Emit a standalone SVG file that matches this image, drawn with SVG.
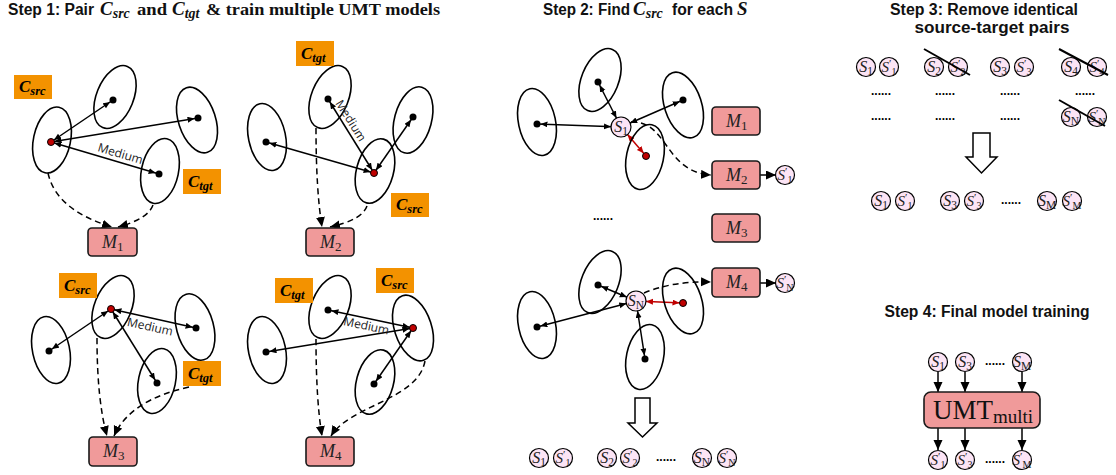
<svg xmlns="http://www.w3.org/2000/svg" width="1116" height="475" viewBox="0 0 1116 475">
<defs>
<style>
.el{fill:none;stroke:#000;stroke-width:1.6}
.dot{fill:#000}
.rdot{fill:#c00000;stroke:#000;stroke-width:1}
.ba{stroke:#000;stroke-width:1.5;fill:none;marker-start:url(#ad);marker-end:url(#ad)}
.ra{stroke:#c00000;stroke-width:1.5;fill:none}
.dash{stroke:#000;stroke-width:1.5;fill:none;stroke-dasharray:6,4;marker-end:url(#dh)}
.sol{stroke:#000;stroke-width:1.5;fill:none;marker-end:url(#fa)}
.cb{fill:#f39200}
.cl{font-family:"Liberation Serif",serif;font-style:italic;font-weight:bold;font-size:17px;fill:#000}
.csub{font-size:12.5px}
.mb{fill:#f09a9a;stroke:#1a1a1a;stroke-width:1.6}
.ml{font-family:"Liberation Serif",serif;font-style:italic;font-size:18px;fill:#222}
.msub{font-size:13px;font-style:normal}
.sc{fill:#fce4f5;stroke:#000;stroke-width:1.2}
.st{font-family:"Liberation Serif",serif;font-style:italic;font-size:16px;fill:#222;text-anchor:middle}
.ss{font-size:11.5px;font-style:normal}
.sq{font-size:10px;font-style:normal}
.sp{font-size:11px;font-style:normal}
.stp{font-family:"Liberation Serif",serif;font-style:italic;font-size:15px;fill:#222;text-anchor:middle}
.med{font-family:"Open Sans","Liberation Sans",sans-serif;font-size:12px;fill:#222;text-anchor:middle}
.ti{font-family:"Liberation Sans",sans-serif;font-weight:bold;font-size:16px;fill:#111}
.tis{font-family:"Liberation Serif",serif;font-weight:bold;font-size:17px;fill:#111}
.tim{font-family:"Liberation Serif",serif;font-weight:bold;font-style:italic;font-size:19px;fill:#111}
.tsub{font-size:14px}
.dots{font-family:"Liberation Sans",sans-serif;font-weight:bold;font-size:12px;fill:#000;text-anchor:middle}
.hol{fill:#fff;stroke:#000;stroke-width:1.5}
.umt{font-family:"Liberation Serif",serif;font-size:27px;fill:#111}
.strike{stroke:#000;stroke-width:2}
</style>
<marker id="ad" markerUnits="userSpaceOnUse" markerWidth="12" markerHeight="8" refX="10.5" refY="3" orient="auto-start-reverse"><path d="M0,0 L7,3 L0,6 z" fill="#000"/></marker>
<marker id="as" markerUnits="userSpaceOnUse" markerWidth="20" markerHeight="8" refX="17" refY="3" orient="auto-start-reverse"><path d="M0,0 L7,3 L0,6 z" fill="#000"/></marker>
<marker id="rd" markerUnits="userSpaceOnUse" markerWidth="12" markerHeight="8" refX="10.5" refY="3" orient="auto-start-reverse"><path d="M0,0 L7,3 L0,6 z" fill="#c00000"/></marker>
<marker id="rs" markerUnits="userSpaceOnUse" markerWidth="20" markerHeight="8" refX="17" refY="3" orient="auto-start-reverse"><path d="M0,0 L7,3 L0,6 z" fill="#c00000"/></marker>
<marker id="dh" markerUnits="userSpaceOnUse" markerWidth="11" markerHeight="10" refX="10" refY="4.5" orient="auto"><path d="M0,0 L10,4.5 L0,9 z" fill="#000"/></marker>
<marker id="fa" markerUnits="userSpaceOnUse" markerWidth="11" markerHeight="10" refX="10" refY="4.5" orient="auto"><path d="M0,0 L10,4.5 L0,9 z" fill="#000"/></marker>
</defs>
<rect width="1116" height="475" fill="#fff"/>

<!-- Titles -->
<g id="titles">
<text class="ti" x="8" y="15" textLength="86" lengthAdjust="spacingAndGlyphs">Step 1: Pair</text>
<text class="tim" x="100" y="15">C<tspan class="tsub" dy="3">src</tspan></text>
<text class="tis" x="137" y="15" textLength="30" lengthAdjust="spacingAndGlyphs">and</text>
<text class="tim" x="172" y="15">C<tspan class="tsub" dy="3">tgt</tspan></text>
<text class="tis" x="206" y="15" textLength="234" lengthAdjust="spacingAndGlyphs">&amp; train multiple UMT models</text>
<text class="ti" x="543" y="15" textLength="87" lengthAdjust="spacingAndGlyphs">Step 2: Find</text>
<text class="tim" x="633" y="15">C<tspan class="tsub" dy="3">src</tspan></text>
<text class="ti" x="672" y="15" textLength="61" lengthAdjust="spacingAndGlyphs">for each</text>
<text class="tim" x="737" y="15">S</text>
<text class="ti" x="984" y="15" text-anchor="middle" textLength="188" lengthAdjust="spacingAndGlyphs">Step 3: Remove identical</text>
<text class="ti" x="992" y="33" text-anchor="middle" textLength="155" lengthAdjust="spacingAndGlyphs">source-target pairs</text>
<text class="ti" x="987" y="317" text-anchor="middle" textLength="205" lengthAdjust="spacingAndGlyphs">Step 4: Final model training</text>
</g>

<!-- Connectors -->
<g id="connectors">
<line class="ba" x1="51" y1="142" x2="113" y2="100"/>
<line class="ba" x1="51" y1="142" x2="198" y2="118"/>
<line class="ba" x1="51" y1="142" x2="159" y2="174"/>
<path class="dash" d="M48,173 Q56,210 112,227"/>
<path class="dash" d="M153,205 Q148,219 118,227"/>
<line class="ba" x1="374" y1="173" x2="328" y2="99"/>
<line class="ba" x1="374" y1="173" x2="266" y2="142"/>
<line class="ba" x1="374" y1="173" x2="413" y2="117"/>
<path class="dash" d="M316,128 Q316,190 322,227"/>
<path class="dash" d="M367,206 Q362,220 330,227"/>
<line class="ba" x1="111" y1="309" x2="49" y2="351"/>
<line class="ba" x1="111" y1="309" x2="196" y2="328"/>
<line class="ba" x1="111" y1="309" x2="157" y2="383"/>
<path class="dash" d="M97,338 Q97,400 107,436"/>
<path class="dash" d="M189,387 Q130,400 114,436"/>
<line class="ba" x1="413" y1="328" x2="328" y2="310"/>
<line class="ba" x1="413" y1="328" x2="266" y2="352"/>
<line class="ba" x1="413" y1="328" x2="374" y2="384"/>
<path class="dash" d="M316,339 Q316,400 322,436"/>
<path class="dash" d="M425,361 C418,400 350,405 331,436"/>
<line class="ba" style="marker-start:url(#as)" x1="621" y1="127" x2="537" y2="124"/>
<line class="ba" style="marker-start:url(#as)" x1="621" y1="127" x2="598" y2="82"/>
<line class="ba" style="marker-start:url(#as)" x1="621" y1="127" x2="683" y2="100"/>
<line class="ra" style="marker-start:url(#rs);marker-end:url(#rd)" x1="621" y1="127" x2="646" y2="156"/>
<path class="dash" d="M631,122 C668,120 664,172 711,175"/>
<line class="sol" x1="760" y1="175" x2="776" y2="175"/>
<line class="ba" style="marker-start:url(#as)" x1="636" y1="301" x2="598" y2="285"/>
<line class="ba" style="marker-start:url(#as)" x1="636" y1="301" x2="537" y2="327"/>
<line class="ba" style="marker-start:url(#as)" x1="636" y1="301" x2="645" y2="359"/>
<line class="ra" style="marker-start:url(#rs);marker-end:url(#rd)" x1="636" y1="301" x2="683" y2="303"/>
<path class="dash" d="M644,293 Q672,281 711,282"/>
<line class="sol" x1="760" y1="283" x2="776" y2="283"/>
<line class="sol" x1="938" y1="372" x2="938" y2="392"/>
<line class="sol" x1="965" y1="372" x2="965" y2="392"/>
<line class="sol" x1="1022" y1="372" x2="1022" y2="392"/>
<line class="sol" x1="938" y1="428" x2="938" y2="450"/>
<line class="sol" x1="965" y1="428" x2="965" y2="450"/>
<line class="sol" x1="1022" y1="428" x2="1022" y2="450"/>
</g>

<!-- Panel 1 -->
<g id="p1">
<ellipse class="el" cx="52" cy="140" rx="18.5" ry="33.5" transform="rotate(12 52 140)"/>
<ellipse class="el" cx="115" cy="97" rx="18.5" ry="33" transform="rotate(22 115 97)"/>
<ellipse class="el" cx="197" cy="120" rx="18.5" ry="34" transform="rotate(-18 197 120)"/>
<ellipse class="el" cx="160" cy="171" rx="18.5" ry="33" transform="rotate(12 160 171)"/>
<circle class="rdot" cx="51" cy="142" r="3.5"/>
<circle class="dot" cx="113" cy="100" r="3.5"/>
<circle class="dot" cx="198" cy="118" r="3.5"/>
<circle class="dot" cx="159" cy="174" r="3.5"/>
<text class="med" transform="translate(118,161.5) rotate(16.5)" y="-4">Medium</text>
<rect class="cb" x="14" y="75" width="38" height="24"/>
<text class="cl" x="19" y="92">C<tspan class="csub" dy="3">src</tspan></text>
<rect class="cb" x="183" y="169" width="38" height="25"/>
<text class="cl" x="188" y="187">C<tspan class="csub" dy="3">tgt</tspan></text>
</g>
<g id="m1"><rect class="mb" x="88" y="228" width="49" height="28" rx="4"/><text class="ml" x="102" y="248">M<tspan class="msub" dy="3">1</tspan></text></g>

<!-- Panel 2 -->
<g id="p2">
<ellipse class="el" cx="330" cy="97" rx="18.5" ry="33" transform="rotate(22 330 97)"/>
<ellipse class="el" cx="267" cy="137" rx="18.5" ry="34" transform="rotate(-12 267 137)"/>
<ellipse class="el" cx="413" cy="120" rx="18.5" ry="34" transform="rotate(15 413 120)"/>
<ellipse class="el" cx="375" cy="171" rx="18.5" ry="33" transform="rotate(15 375 171)"/>
<circle class="dot" cx="328" cy="99" r="3.5"/>
<circle class="dot" cx="266" cy="142" r="3.5"/>
<circle class="dot" cx="413" cy="117" r="3.5"/>
<circle class="rdot" cx="374" cy="173" r="3.5"/>
<text class="med" transform="translate(344,125) rotate(58)" y="-4">Medium</text>
<rect class="cb" x="296" y="41" width="38" height="25"/>
<text class="cl" x="301" y="59">C<tspan class="csub" dy="3">tgt</tspan></text>
<rect class="cb" x="391" y="193" width="38" height="24"/>
<text class="cl" x="396" y="210">C<tspan class="csub" dy="3">src</tspan></text>
</g>
<g id="m2"><rect class="mb" x="306" y="228" width="48" height="28" rx="4"/><text class="ml" x="320" y="248">M<tspan class="msub" dy="3">2</tspan></text></g>

<!-- Panel 3 -->
<g id="p3">
<ellipse class="el" cx="113" cy="307" rx="18.5" ry="33" transform="rotate(22 113 307)"/>
<ellipse class="el" cx="51" cy="350" rx="18.5" ry="34" transform="rotate(-12 51 350)"/>
<ellipse class="el" cx="195" cy="327" rx="18.5" ry="34" transform="rotate(-15 195 327)"/>
<ellipse class="el" cx="157" cy="381" rx="18.5" ry="33" transform="rotate(12 157 381)"/>
<circle class="rdot" cx="111" cy="309" r="3.5"/>
<circle class="dot" cx="49" cy="351" r="3.5"/>
<circle class="dot" cx="196" cy="328" r="3.5"/>
<circle class="dot" cx="157" cy="383" r="3.5"/>
<text class="med" transform="translate(152,318) rotate(12.6)" y="13">Medium</text>
<rect class="cb" x="59" y="273" width="38" height="25"/>
<text class="cl" x="64" y="291">C<tspan class="csub" dy="3">src</tspan></text>
<rect class="cb" x="183" y="361" width="38" height="25"/>
<text class="cl" x="188" y="379">C<tspan class="csub" dy="3">tgt</tspan></text>
</g>
<g id="m3"><rect class="mb" x="89" y="437" width="48" height="29" rx="4"/><text class="ml" x="103" y="457">M<tspan class="msub" dy="3">3</tspan></text></g>

<!-- Panel 4 -->
<g id="p4">
<ellipse class="el" cx="330" cy="307" rx="18.5" ry="33" transform="rotate(22 330 307)"/>
<ellipse class="el" cx="267" cy="350" rx="18.5" ry="34" transform="rotate(-12 267 350)"/>
<ellipse class="el" cx="413" cy="328" rx="18.5" ry="34" transform="rotate(-18 413 328)"/>
<ellipse class="el" cx="375" cy="382" rx="18.5" ry="33" transform="rotate(15 375 382)"/>
<circle class="dot" cx="328" cy="310" r="3.5"/>
<circle class="dot" cx="266" cy="352" r="3.5"/>
<circle class="rdot" cx="413" cy="328" r="3.5"/>
<circle class="dot" cx="374" cy="384" r="3.5"/>
<text class="med" transform="translate(368,318) rotate(12)" y="12">Medium</text>
<rect class="cb" x="275" y="278" width="38" height="25"/>
<text class="cl" x="280" y="296">C<tspan class="csub" dy="3">tgt</tspan></text>
<rect class="cb" x="376" y="268" width="38" height="25"/>
<text class="cl" x="381" y="286">C<tspan class="csub" dy="3">src</tspan></text>
</g>
<g id="m4"><rect class="mb" x="306" y="437" width="48" height="29" rx="4"/><text class="ml" x="320" y="457">M<tspan class="msub" dy="3">4</tspan></text></g>

<!-- Step 2 top -->
<g id="s2top">
<ellipse class="el" cx="600" cy="80" rx="18.5" ry="33" transform="rotate(22 600 80)"/>
<ellipse class="el" cx="537" cy="122" rx="18.5" ry="34" transform="rotate(-12 537 122)"/>
<ellipse class="el" cx="683" cy="105" rx="18.5" ry="34" transform="rotate(-18 683 105)"/>
<ellipse class="el" cx="645" cy="157" rx="18.5" ry="33" transform="rotate(12 645 157)"/>
<circle class="dot" cx="598" cy="82" r="3.5"/>
<circle class="dot" cx="537" cy="124" r="3.5"/>
<circle class="dot" cx="683" cy="100" r="3.5"/>
<circle class="rdot" cx="646" cy="156" r="3.5"/>
</g>
<g id="s2-s1"><circle class="sc" cx="621" cy="127" r="10"/><text class="st" x="621" y="131.5">S<tspan class="ss" dy="3">1</tspan></text></g>
<g id="s2-m1"><rect class="mb" x="712" y="107" width="48" height="28" rx="4"/><text class="ml" x="726" y="127">M<tspan class="msub" dy="3">1</tspan></text></g>
<g id="s2-m2"><rect class="mb" x="712" y="161" width="48" height="28" rx="4"/><text class="ml" x="726" y="181">M<tspan class="msub" dy="3">2</tspan></text></g>
<g id="s2-m3"><rect class="mb" x="712" y="214" width="48" height="28" rx="4"/><text class="ml" x="726" y="234">M<tspan class="msub" dy="3">3</tspan></text></g>
<g id="s2-s1p"><circle class="sc" cx="785" cy="175" r="9.5"/><text class="stp" x="785" y="179.5">S<tspan class="sp" dy="-5">′</tspan><tspan class="sq" dy="8">1</tspan></text></g>
<text class="dots" x="603" y="220">......</text>

<!-- Step 2 bottom -->
<g id="s2bot">
<ellipse class="el" cx="600" cy="282" rx="18.5" ry="33" transform="rotate(22 600 282)"/>
<ellipse class="el" cx="537" cy="325" rx="18.5" ry="34" transform="rotate(-12 537 325)"/>
<ellipse class="el" cx="683" cy="301" rx="18.5" ry="34" transform="rotate(-18 683 301)"/>
<ellipse class="el" cx="645" cy="357" rx="18.5" ry="33" transform="rotate(12 645 357)"/>
<circle class="dot" cx="598" cy="285" r="3.5"/>
<circle class="dot" cx="537" cy="327" r="3.5"/>
<circle class="rdot" cx="683" cy="303" r="3.5"/>
<circle class="dot" cx="645" cy="359" r="3.5"/>
</g>
<g id="s2-sn"><circle class="sc" cx="636" cy="301" r="10"/><text class="st" x="636" y="305.5">S<tspan class="ss" dy="3">N</tspan></text></g>
<g id="s2-m4"><rect class="mb" x="712" y="268" width="48" height="29" rx="4"/><text class="ml" x="726" y="288">M<tspan class="msub" dy="3">4</tspan></text></g>
<g id="s2-snp"><circle class="sc" cx="785" cy="283" r="9.5"/><text class="stp" x="785" y="287.5">S<tspan class="sp" dy="-5">′</tspan><tspan class="sq" dy="8">N</tspan></text></g>
<polygon class="hol" points="635,398 650,398 650,423 657,423 642.5,437 628,423 635,423"/>
<g id="s2-row">
<circle class="sc" cx="539" cy="458" r="9.5"/><text class="st" x="539" y="462.5">S<tspan class="ss" dy="3">1</tspan></text>
<circle class="sc" cx="563" cy="458" r="9.5"/><text class="stp" x="563" y="462.5">S<tspan class="sp" dy="-5">′</tspan><tspan class="sq" dy="8">1</tspan></text>
<circle class="sc" cx="607" cy="458" r="9.5"/><text class="st" x="607" y="462.5">S<tspan class="ss" dy="3">2</tspan></text>
<circle class="sc" cx="630" cy="458" r="9.5"/><text class="stp" x="630" y="462.5">S<tspan class="sp" dy="-5">′</tspan><tspan class="sq" dy="8">2</tspan></text>
<text class="dots" x="666" y="461">......</text>
<circle class="sc" cx="702" cy="458" r="9.5"/><text class="st" x="702" y="462.5">S<tspan class="ss" dy="3">N</tspan></text>
<circle class="sc" cx="727" cy="458" r="9.5"/><text class="stp" x="727" y="462.5">S<tspan class="sp" dy="-5">′</tspan><tspan class="sq" dy="8">N</tspan></text>
</g>

<!-- Step 3 -->
<g id="s3-row1">
<circle class="sc" cx="866" cy="67" r="9.5"/><text class="st" x="866" y="71.5">S<tspan class="ss" dy="3">1</tspan></text>
<circle class="sc" cx="889" cy="67" r="9.5"/><text class="stp" x="889" y="71.5">S<tspan class="sp" dy="-5">′</tspan><tspan class="sq" dy="8">1</tspan></text>
<circle class="sc" cx="934" cy="67" r="9.5"/><text class="st" x="934" y="71.5">S<tspan class="ss" dy="3">2</tspan></text>
<circle class="sc" cx="958" cy="67" r="9.5"/><text class="stp" x="958" y="71.5">S<tspan class="sp" dy="-5">′</tspan><tspan class="sq" dy="8">2</tspan></text>
<circle class="sc" cx="1000" cy="67" r="9.5"/><text class="st" x="1000" y="71.5">S<tspan class="ss" dy="3">3</tspan></text>
<circle class="sc" cx="1024" cy="67" r="9.5"/><text class="stp" x="1024" y="71.5">S<tspan class="sp" dy="-5">′</tspan><tspan class="sq" dy="8">3</tspan></text>
<circle class="sc" cx="1071" cy="67" r="9.5"/><text class="st" x="1071" y="71.5">S<tspan class="ss" dy="3">4</tspan></text>
<circle class="sc" cx="1097" cy="67" r="9.5"/><text class="stp" x="1097" y="71.5">S<tspan class="sp" dy="-5">′</tspan><tspan class="sq" dy="8">4</tspan></text>
</g>
<g id="s3-rows">
<text class="dots" x="881" y="95">......</text>
<text class="dots" x="945" y="95">......</text>
<text class="dots" x="1010" y="95">......</text>
<text class="dots" x="1085" y="95">......</text>
<text class="dots" x="881" y="120">......</text>
<text class="dots" x="945" y="120">......</text>
<text class="dots" x="1010" y="120">......</text>
<circle class="sc" cx="1071" cy="117" r="9.5"/><text class="st" x="1071" y="121.5">S<tspan class="ss" dy="3">N</tspan></text>
<circle class="sc" cx="1097" cy="117" r="9.5"/><text class="stp" x="1097" y="121.5">S<tspan class="sp" dy="-5">′</tspan><tspan class="sq" dy="8">N</tspan></text>
</g>
<g id="s3-strikes">
<line class="strike" x1="924" y1="49" x2="970" y2="75"/>
<line class="strike" x1="1059" y1="49" x2="1108" y2="75"/>
<line class="strike" x1="1059" y1="100" x2="1105" y2="126"/>
</g>
<polygon class="hol" points="973,133 990,133 990,157 997,157 981.5,173 966,157 973,157"/>
<g id="s3-result">
<circle class="sc" cx="881" cy="201" r="9.5"/><text class="st" x="881" y="205.5">S<tspan class="ss" dy="3">1</tspan></text>
<circle class="sc" cx="905" cy="201" r="9.5"/><text class="stp" x="905" y="205.5">S<tspan class="sp" dy="-5">′</tspan><tspan class="sq" dy="8">1</tspan></text>
<circle class="sc" cx="950" cy="201" r="9.5"/><text class="st" x="950" y="205.5">S<tspan class="ss" dy="3">3</tspan></text>
<circle class="sc" cx="974" cy="201" r="9.5"/><text class="stp" x="974" y="205.5">S<tspan class="sp" dy="-5">′</tspan><tspan class="sq" dy="8">3</tspan></text>
<text class="dots" x="1011" y="204">......</text>
<circle class="sc" cx="1047" cy="201" r="9.5"/><text class="st" x="1047" y="205.5">S<tspan class="ss" dy="3">M</tspan></text>
<circle class="sc" cx="1072" cy="201" r="9.5"/><text class="stp" x="1072" y="205.5">S<tspan class="sp" dy="-5">′</tspan><tspan class="sq" dy="8">M</tspan></text>
</g>

<!-- Step 4 -->
<g id="s4-in">
<circle class="sc" cx="938" cy="362" r="9.5"/><text class="st" x="938" y="366.5">S<tspan class="ss" dy="3">1</tspan></text>
<circle class="sc" cx="965" cy="362" r="9.5"/><text class="st" x="965" y="366.5">S<tspan class="ss" dy="3">3</tspan></text>
<text class="dots" x="995" y="365">......</text>
<circle class="sc" cx="1022" cy="362" r="9.5"/><text class="st" x="1022" y="366.5">S<tspan class="ss" dy="3">M</tspan></text>
</g>
<g id="umt"><rect class="mb" x="924" y="392" width="116" height="36" rx="7"/><text class="umt" x="933" y="419">UMT<tspan font-size="19" dy="4">multi</tspan></text></g>
<g id="s4-out">
<circle class="sc" cx="938" cy="460" r="9.5"/><text class="stp" x="938" y="464.5">S<tspan class="sp" dy="-5">′</tspan><tspan class="sq" dy="8">1</tspan></text>
<circle class="sc" cx="965" cy="460" r="9.5"/><text class="stp" x="965" y="464.5">S<tspan class="sp" dy="-5">′</tspan><tspan class="sq" dy="8">3</tspan></text>
<text class="dots" x="995" y="463">......</text>
<circle class="sc" cx="1022" cy="460" r="9.5"/><text class="stp" x="1022" y="464.5">S<tspan class="sp" dy="-5">′</tspan><tspan class="sq" dy="8">M</tspan></text>
</g>
</svg>
